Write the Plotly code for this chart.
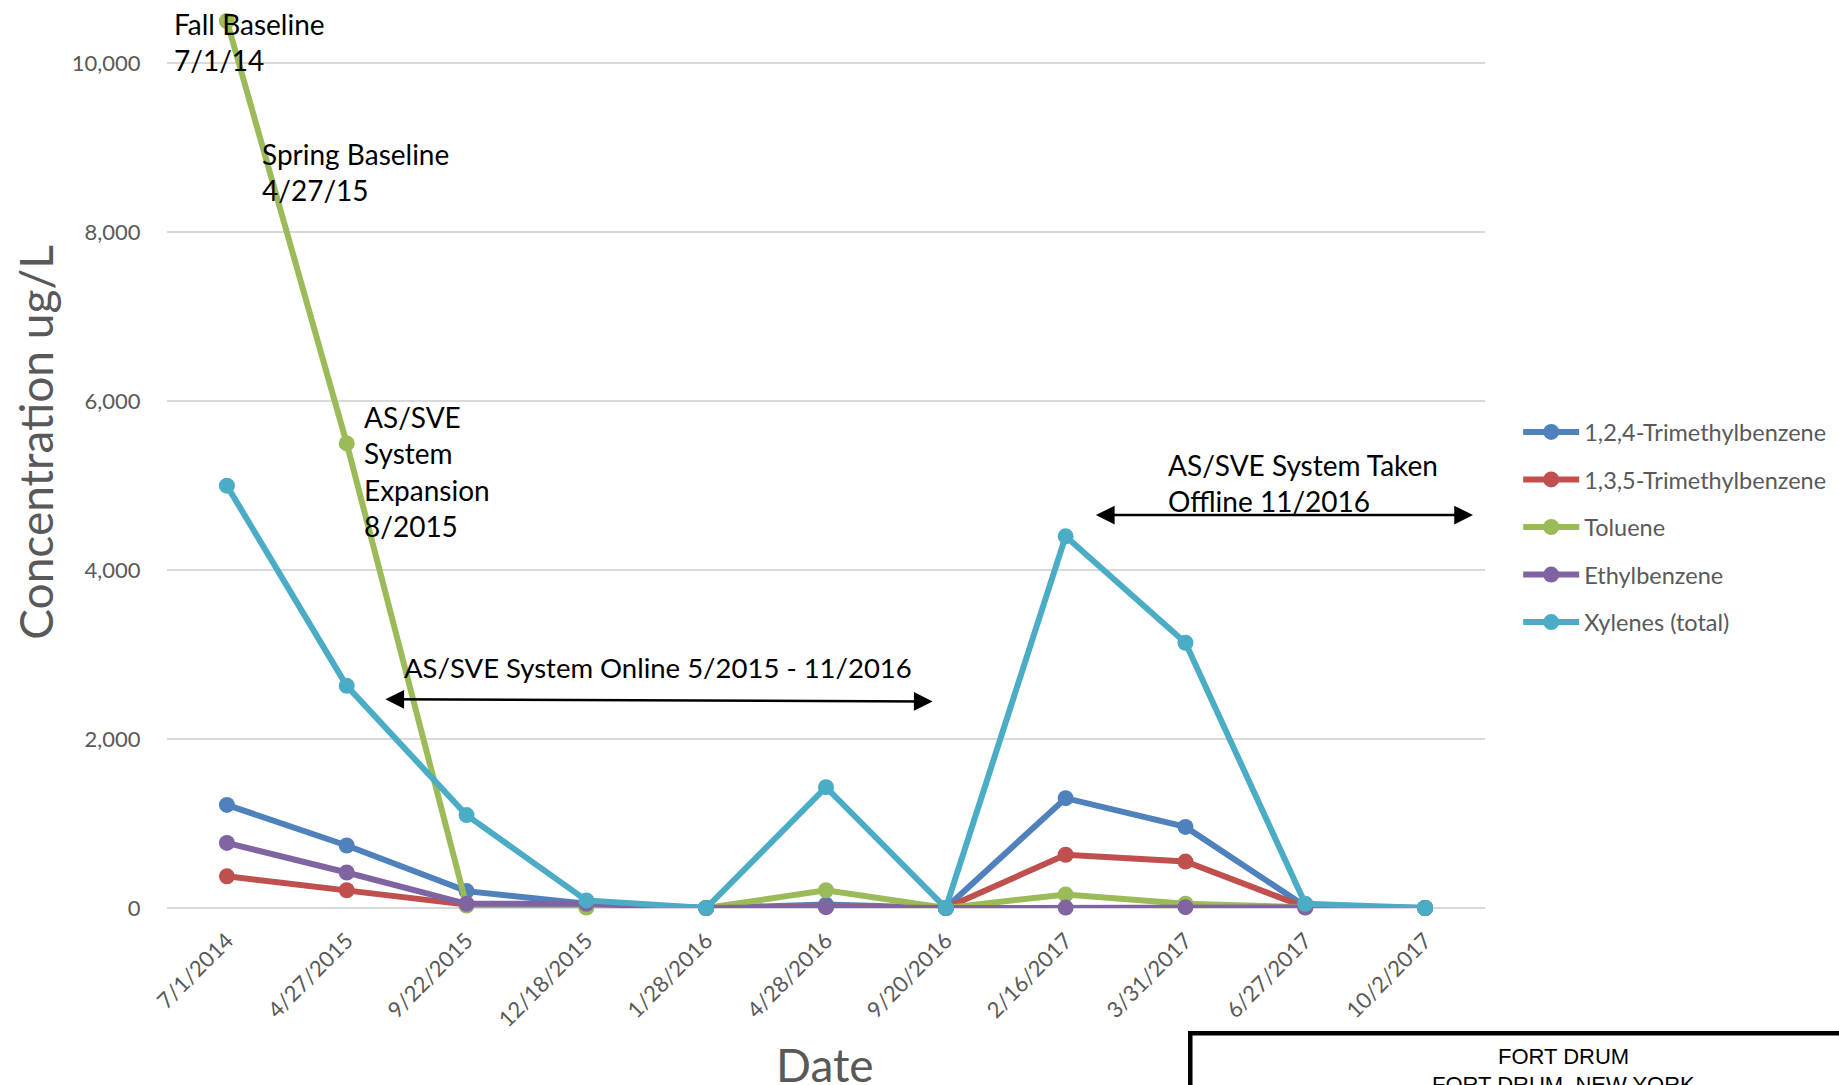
import plotly.graph_objects as go

# ---- data -------------------------------------------------------------
dates = ["7/1/2014", "4/27/2015", "9/22/2015", "12/18/2015", "1/28/2016",
         "4/28/2016", "9/20/2016", "2/16/2017", "3/31/2017", "6/27/2017",
         "10/2/2017"]

tmb_124 = [1220, 740, 200, 50, 0, 40, 0, 1300, 960, 20, 0]
tmb_135 = [375, 210, 40, 15, 0, 15, 0, 630, 550, 10, 0]
toluene = [10500, 5500, 30, 5, 0, 210, 0, 160, 50, 10, 0]
ethylbenzene = [770, 420, 50, 50, 0, 10, 0, 5, 10, 5, 0]
xylenes = [5000, 2630, 1100, 90, 0, 1430, 0, 4400, 3140, 50, 0]

series_names = ["1,2,4-Trimethylbenzene", "1,3,5-Trimethylbenzene", "Toluene",
                "Ethylbenzene", "Xylenes (total)"]
series_values = [tmb_124, tmb_135, toluene, ethylbenzene, xylenes]
series_colors = ["#4F81BD", "#C0504D", "#9BBB59", "#8064A2", "#4BACC6"]

y_ticks = [0, 2000, 4000, 6000, 8000, 10000]
y_ticktext = ["0", "2,000", "4,000", "6,000", "8,000", "10,000"]

# ---- page geometry (pixels) ------------------------------------------
W, H = 1839, 1085
PL, PR, PT, PB = 166.5, 1484.8, 0.0, 907.7
Y_TOP = 10749  # value shown at the top edge of the plot area


def px(xp, yp):
    """pixel position -> paper coordinates"""
    return (xp - PL) / (PR - PL), (PB - yp) / (PB - PT)


TXT = "Lato, 'Open Sans', sans-serif"
GRAY = "#595959"

fig = go.Figure()
for name, vals, col in zip(series_names, series_values, series_colors):
    fig.add_trace(go.Scatter(
        x=dates, y=vals, name=name, mode="lines+markers",
        line=dict(color=col, width=6),
        marker=dict(color=col, size=16),
        legendgroup=name, cliponaxis=False,
    ))

annotations = []


def note(text, xp, yp, size=28):
    xx, yy = px(xp, yp)
    annotations.append(dict(
        text=text, x=xx, y=yy, xref="paper", yref="paper",
        xanchor="left", yanchor="middle", align="left", showarrow=False,
        font=dict(family=TXT, size=size, color="black")))


note("Fall Baseline<br>7/1/14", 172, 42)
note("Spring Baseline<br>4/27/15", 260, 172)
note("AS/SVE<br>System<br>Expansion<br>8/2015", 362, 471)
note("AS/SVE System Online 5/2015 - 11/2016", 402, 667, size=27.5)
note("AS/SVE System Taken<br>Offline 11/2016", 1166, 483)

# double-headed period arrows (category index on x, concentration on y)
for (x0, y0, x1, y1) in [(1.31, 2470, 5.89, 2445), (7.24, 4651, 10.40, 4651)]:
    annotations.append(dict(
        text="", x=x1, y=y1, ax=x0, ay=y0, xref="x", yref="y",
        axref="x", ayref="y", showarrow=True, arrowside="end+start",
        arrowhead=2, arrowsize=1.5, arrowwidth=2.5, arrowcolor="black",
        standoff=0, startstandoff=0))

# axis titles
xx, yy = px(35, 443)
annotations.append(dict(
    text="Concentration ug/L", x=xx, y=yy, xref="paper", yref="paper",
    textangle=-90, xanchor="center", yanchor="middle", showarrow=False,
    font=dict(family=TXT, size=46, color=GRAY)))
xx, yy = px(824.5, 1064)
annotations.append(dict(
    text="Date", x=xx, y=yy, xref="paper", yref="paper",
    xanchor="center", yanchor="middle", showarrow=False,
    font=dict(family=TXT, size=46, color=GRAY)))

# title block in the lower right corner
BOX = "'Liberation Sans Narrow', 'Arial Narrow', 'Liberation Sans', sans-serif"
for text, yp in [("FORT DRUM", 1056), ("FORT DRUM, NEW YORK", 1084)]:
    xx, yy = px(1563, yp)
    annotations.append(dict(
        text=text, x=xx, y=yy, xref="paper", yref="paper",
        xanchor="center", yanchor="middle", showarrow=False,
        font=dict(family=BOX, size=22, color="black")))

bx0, by1 = px(1190, 1033)
bx1, by0 = px(1900, 1200)
shapes = [dict(type="rect", xref="paper", yref="paper",
               x0=bx0, x1=bx1, y0=by0, y1=by1,
               line=dict(color="black", width=4.5), fillcolor="rgba(0,0,0,0)")]

lx, ly = px(1518, 410)
fig.update_layout(
    width=W, height=H,
    margin=dict(l=PL, r=W - PR, t=PT, b=H - PB, pad=0, autoexpand=False),
    paper_bgcolor="white", plot_bgcolor="white",
    showlegend=True,
    legend=dict(x=lx, y=ly, xanchor="left", yanchor="top",
                font=dict(family=TXT, size=23.5, color=GRAY),
                itemwidth=56, tracegroupgap=14,
                bgcolor="rgba(0,0,0,0)"),
    annotations=annotations,
    shapes=shapes,
    xaxis=dict(type="category", range=[-0.5, 10.5], showgrid=False,
               showline=False, zeroline=False, tickangle=-45,
               ticks="outside", ticklen=10, tickcolor="rgba(0,0,0,0)",
               tickfont=dict(family=TXT, size=22, color=GRAY),
               automargin=False),
    yaxis=dict(range=[0, Y_TOP], tickvals=y_ticks, ticktext=y_ticktext,
               showgrid=True, gridcolor="#D9D9D9", gridwidth=2,
               zeroline=True, zerolinecolor="#D9D9D9", zerolinewidth=2,
               showline=False, ticks="outside", ticklen=21,
               tickcolor="rgba(0,0,0,0)",
               tickfont=dict(family=TXT, size=22, color=GRAY),
               automargin=False),
)

fig.write_html("out.html")
